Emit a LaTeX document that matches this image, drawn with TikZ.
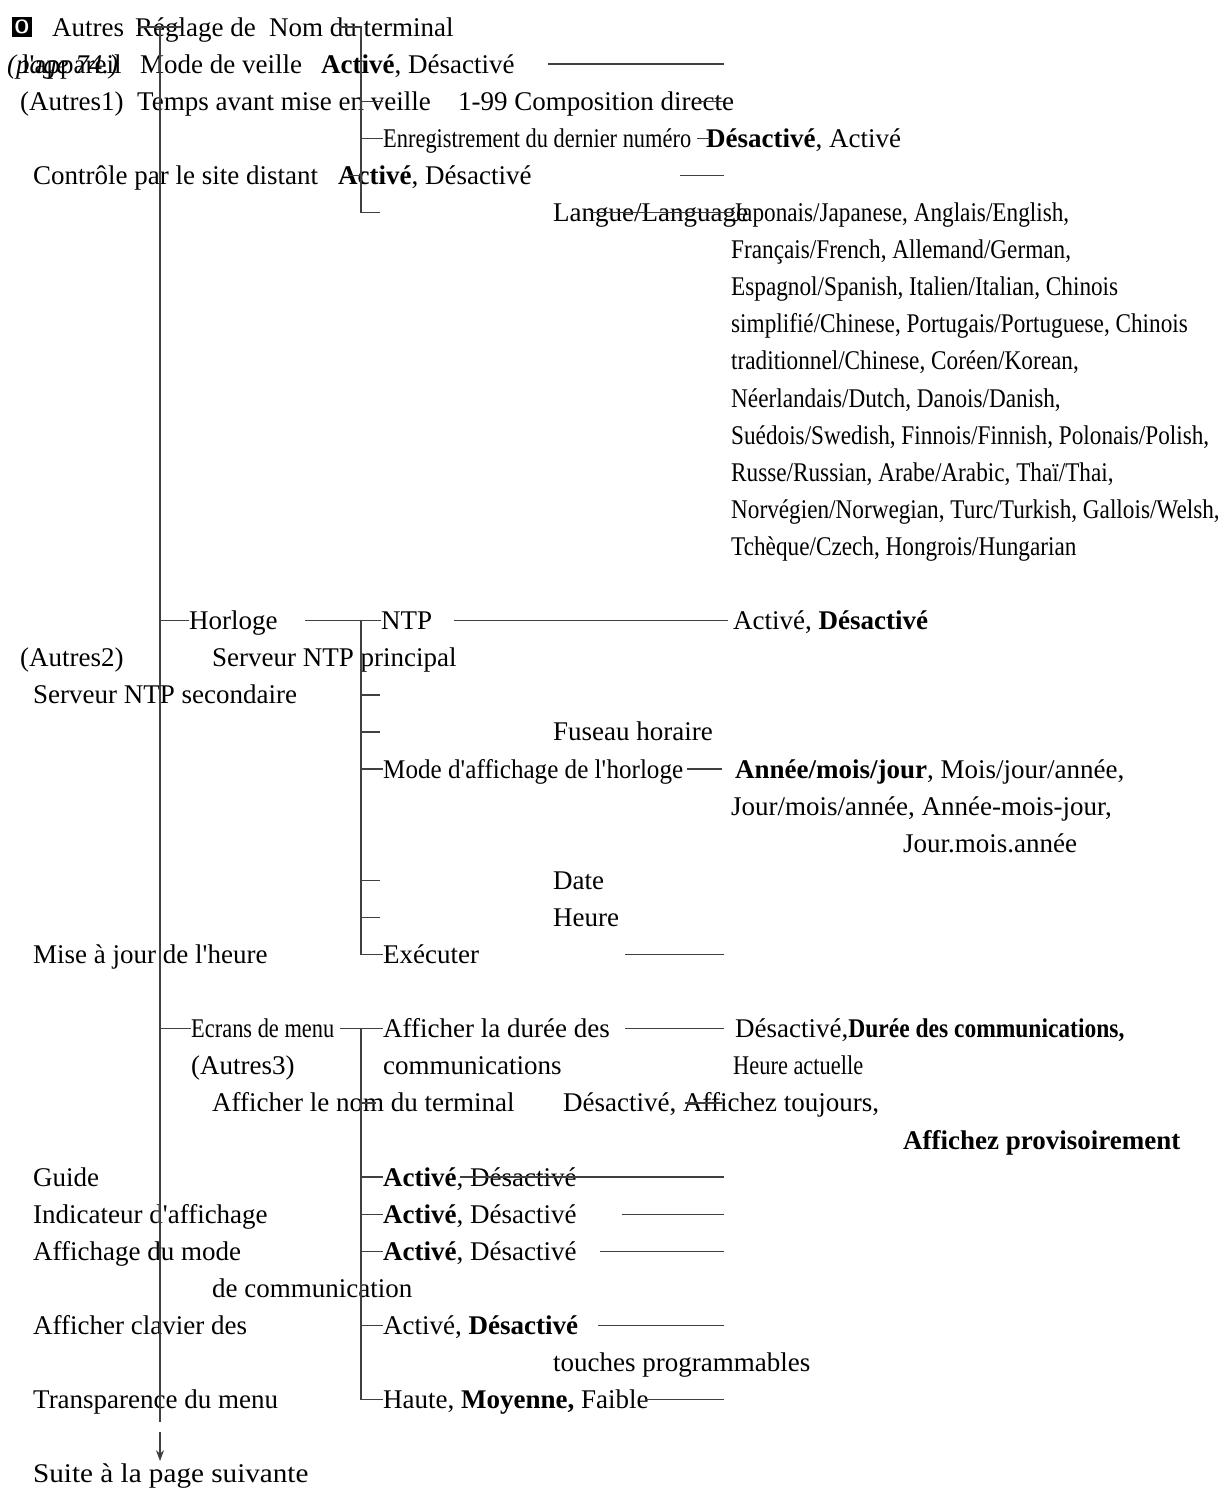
\documentclass[tikz,border=0pt]{standalone}
\usepackage{fontspec}
\setmainfont{Liberation Serif}
\newfontfamily\condfont[FakeStretch=0.83]{Liberation Serif}
\newfontfamily\semifont[FakeStretch=0.93]{Liberation Serif}
\newfontfamily\langfont[FakeStretch=0.86]{Liberation Serif}
\newfontfamily\durfont[FakeStretch=0.87]{Liberation Serif}
\newfontfamily\widefont[FakeStretch=1.08]{Liberation Serif}
\usetikzlibrary{arrows.meta}

\begin{document}
\begin{tikzpicture}[
    x=1pt, y=-37.1pt,
    lbl/.style={anchor=west, inner sep=0pt, text height=21.6pt, text depth=3.6pt, font=\fontsize{27}{32}\selectfont},
    cond/.style={lbl, font=\fontsize{27}{32}\selectfont\condfont},
    semi/.style={lbl, font=\fontsize{27}{32}\selectfont\semifont},
    langs/.style={lbl, font=\fontsize{27}{32}\selectfont\langfont},
    wire/.style={line width=1.4pt, black!75},
    arr/.style={wire, -{Stealth[length=11pt, width=8pt]}}
]
\useasboundingbox (0,-0.728) rectangle (1223,39.73);

% trunks
\coordinate (trunkA) at (160,0);
\coordinate (trunkB) at (361,0);
\coordinate (trunkC) at (361,16);
\coordinate (trunkD) at (361,27);

% title row
\node[fill=black, text=white, minimum size=20pt, inner sep=0pt, font=\sffamily\bfseries\fontsize{19}{19}\selectfont] (icon) at (22,0) {O};
\node[lbl] (autres) at (52,0) {Autres};
\node[lbl] (reglage) at (135,0) {Réglage de};
\node[lbl] (nomterm) at (269,0) {Nom du terminal};

% Autres1
\node[lbl, font=\fontsize{27}{32}\selectfont\itshape] (page) at (7,1) {(page 74.)};
\node[lbl] (appareil) at (22,1) {l\textquotesingle appareil};
\node[lbl] (veille) at (140,1) {Mode de veille};
\node[lbl] (veilleval) at (321,1) {\textbf{Activé}, Désactivé};
\node[lbl] (autres1) at (20,2) {(Autres1)};
\node[lbl] (temps) at (137,2) {Temps avant mise en veille};
\node[lbl] (tempsval) at (458,2) {1-99 Composition directe};
\node[cond] (enreg) at (383,3) {Enregistrement du dernier numéro};
\node[lbl] (enregval) at (706,3) {\textbf{Désactivé}, Activé};
\node[lbl] (controle) at (33,4) {Contrôle par le site distant};
\node[lbl] (controleval) at (338,4) {\textbf{Activé}, Désactivé};
\node[lbl] (langue) at (553,5) {Langue/Language};
\node[langs] (lang5) at (733,5) {Japonais/Japanese, Anglais/English,};
\foreach \txt [count=\i from 6] in {{Français/French, Allemand/German,},
    {Espagnol/Spanish, Italien/Italian, Chinois},
    {simplifié/Chinese, Portugais/Portuguese, Chinois},
    {traditionnel/Chinese, Coréen/Korean,},
    {Néerlandais/Dutch, Danois/Danish,},
    {Suédois/Swedish, Finnois/Finnish, Polonais/Polish,},
    {Russe/Russian, Arabe/Arabic, Thaï/Thai,},
    {Norvégien/Norwegian, Turc/Turkish, Gallois/Welsh,},
    {Tchèque/Czech, Hongrois/Hungarian}}
  \node[langs] (lang\i) at (731,\i) {\txt};

% Autres2
\node[lbl] (horloge) at (189,16) {Horloge};
\node[lbl] (ntp) at (381,16) {NTP};
\node[lbl] (ntpval) at (733,16) {Activé, \textbf{Désactivé}};
\node[lbl] (autres2) at (20,17) {(Autres2)};
\node[lbl] (ntpprinc) at (212,17) {Serveur NTP principal};
\node[lbl] (ntpsec) at (33,18) {Serveur NTP secondaire};
\node[lbl] (fuseau) at (553,19) {Fuseau horaire};
\node[semi] (affmode) at (383,20) {Mode d\textquotesingle affichage de l\textquotesingle horloge};
\node[lbl] (affval) at (735,20) {\textbf{Année/mois/jour}, Mois/jour/année,};
\node[lbl] (affval2) at (731,21) {Jour/mois/année, Année-mois-jour,};
\node[lbl] (affval3) at (903,22) {Jour.mois.année};
\node[lbl] (date) at (553,23) {Date};
\node[lbl] (heure) at (553,24) {Heure};
\node[lbl] (miseajour) at (33,25) {Mise à jour de l\textquotesingle heure};
\node[lbl] (executer) at (383,25) {Exécuter};

% Autres3
\node[cond] (ecrans) at (191,27) {Ecrans de menu};
\node[lbl] (duree) at (383,27) {Afficher la durée des};
\node[lbl] (dureeval) at (735,27) {Désactivé,{\durfont\bfseries Durée des communications,}};
\node[lbl] (autres3) at (191,28) {(Autres3)};
\node[lbl] (comm) at (383,28) {communications};
\node[cond] (heureact) at (733,28) {Heure actuelle};
\node[lbl] (affnom) at (212,29) {Afficher le nom du terminal};
\node[lbl] (affnomval) at (563,29) {Désactivé, Affichez toujours,};
\node[lbl] (affnomval2) at (903,30) {\textbf{Affichez provisoirement}};
\node[lbl] (guide) at (33,31) {Guide};
\node[lbl] (guideval) at (383,31) {\textbf{Activé}, Désactivé};
\node[lbl] (indic) at (33,32) {Indicateur d\textquotesingle affichage};
\node[lbl] (indicval) at (383,32) {\textbf{Activé}, Désactivé};
\node[lbl] (modecomm) at (33,33) {Affichage du mode};
\node[lbl] (modecommval) at (383,33) {\textbf{Activé}, Désactivé};
\node[lbl] (modecomm2) at (212,34) {de communication};
\node[lbl] (clavier) at (33,35) {Afficher clavier des};
\node[lbl] (clavierval) at (383,35) {Activé, \textbf{Désactivé}};
\node[lbl] (clavier2) at (553,36) {touches programmables};
\node[lbl] (transp) at (33,37) {Transparence du menu};
\node[lbl] (transpval) at (383,37) {Haute, \textbf{Moyenne,} Faible};
\node[lbl, font=\fontsize{27}{32}\selectfont\widefont] (suite) at (33,39) {Suite à la page suivante};

% main trunk
\draw[wire] (138,0) -- (182,0);
\draw[wire] (trunkA) -- (160,37.6);
\draw[arr] (160,37.87) -- (suite.north -| trunkA);

% branches of Autres1
\draw[wire] (340,0) -- (trunkB) -- (trunkB |- langue) -- (380,5);
\draw[wire] (trunkB |- temps) -- (383,2);
\draw[wire] (trunkB |- enreg) -- (enreg.west);
\draw[wire] (348,4) -- (trunkB |- controle);
\draw[wire] (548,1) -- (724,1);
\draw[wire] (698,2) -- (724,2);
\draw[wire] ([xshift=-9pt]enregval.west) -- ([xshift=5pt]enregval.west);
\draw[wire] (680,4) -- (724,4);
\draw[wire] ([xshift=37pt]langue.west) -- ([xshift=2pt]lang5.west);

% Horloge
\draw[wire] (trunkA |- horloge) -- (horloge.west);
\draw[wire] (305,16) -- (ntp.west);
\draw[wire] ([xshift=22pt]ntp.east) -- ([xshift=-5pt]ntpval.west);
\draw[wire] (trunkC) -- (trunkC |- executer) -- (executer.west);
\foreach \r in {18,19,23,24}
  \draw[wire] (361,\r) -- (380,\r);
\draw[wire] (trunkC |- affmode) -- (affmode.west);
\draw[wire] ([xshift=4pt]affmode.east) -- ([xshift=-13pt]affval.west);
\draw[wire] (625,25) -- (724,25);

% Ecrans de menu
\draw[wire] (trunkA |- ecrans) -- (ecrans.west);
\draw[wire] (340,27) -- (duree.west);
\draw[wire] (trunkD) -- (trunkD |- transpval) -- (transpval.west);
\draw[wire] (625,27) -- (724,27);
\draw[wire] (trunkD |- affnom) -- (376,29);
\draw[wire] (685,29) -- (722,29);
\foreach \n in {guideval,indicval,modecommval,clavierval}
  \draw[wire] (trunkD |- \n) -- (\n.west);
\draw[wire] (460,31) -- (724,31);
\draw[wire] (622,32) -- (724,32);
\draw[wire] (600,33) -- (724,33);
\draw[wire] (598,35) -- (724,35);
\draw[wire] (645,37) -- (724,37);
\end{tikzpicture}
\end{document}
